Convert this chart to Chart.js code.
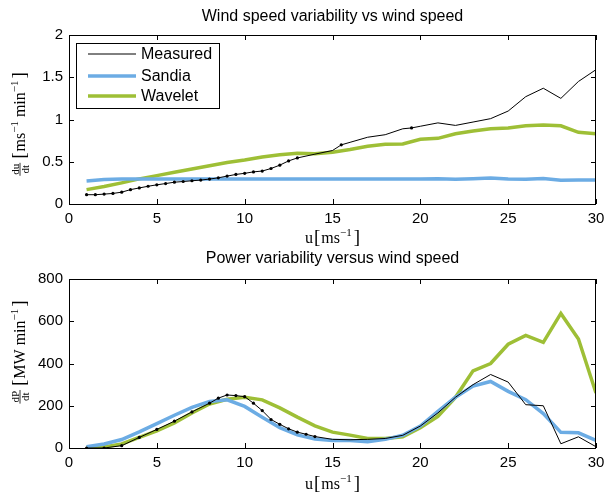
<!DOCTYPE html>
<html><head><meta charset="utf-8">
<script src="https://cdn.jsdelivr.net/npm/chart.js@4/dist/chart.umd.min.js"></script>
<style>
html,body{margin:0;padding:0;background:#fff;}
#wrap{position:relative;width:605px;height:496px;}
canvas{position:absolute;left:0;}
</style></head><body>
<div id="wrap">
<canvas id="c1" width="605" height="248" style="top:0"></canvas>
<canvas id="c2" width="605" height="248" style="top:248px"></canvas>
</div>
<script>
// ---- data: wind speed variability ----
const seriesNames = ['Measured', 'Sandia', 'Wavelet'];
const xTicks = [0, 5, 10, 15, 20, 25, 30];
const yTicksTop = [0, 0.5, 1, 1.5, 2];
const yTicksBottom = [0, 200, 400, 600, 800];

const uMeasTop = [1,1.5,2,2.5,3,3.5,4,4.5,5,5.5,6,6.5,7,7.5,8,8.5,9,9.5,10,10.5,11,11.5,12,12.5,13,14,15,15.5,16,17,18,19,19.5,20,21,22,23,24,25,26,27,28,29,30];
const measTop = [0.11,0.11,0.117,0.125,0.14,0.17,0.19,0.21,0.227,0.242,0.258,0.266,0.275,0.283,0.295,0.31,0.33,0.35,0.363,0.38,0.39,0.42,0.46,0.51,0.545,0.59,0.633,0.70,0.73,0.79,0.82,0.89,0.90,0.92,0.96,0.93,0.97,1.01,1.10,1.27,1.37,1.25,1.45,1.59];
const uModel = [1,2,3,4,5,6,7,8,9,10,11,12,13,14,15,16,17,18,19,20,21,22,23,24,25,26,27,28,29,30];
const sandiaTop = [0.273,0.29,0.297,0.297,0.297,0.297,0.297,0.297,0.297,0.297,0.297,0.297,0.297,0.297,0.297,0.297,0.297,0.297,0.297,0.297,0.30,0.292,0.30,0.308,0.295,0.292,0.302,0.28,0.283,0.285];
const waveletTop = [0.17,0.207,0.25,0.297,0.336,0.375,0.414,0.453,0.49,0.52,0.555,0.582,0.60,0.595,0.613,0.645,0.684,0.707,0.71,0.766,0.777,0.832,0.863,0.89,0.90,0.926,0.934,0.926,0.848,0.832];

// ---- data: power variability ----
const uMeasBot = [1,2,3,4,5,6,7,8,8.5,9,9.5,10,10.5,11,11.5,12,12.5,13,13.5,14,15,16,17,18,19,20,21,22,23,24,25,26,27,28,29,30];
const measBot = [0,0,11,50,88,127,171,212,236,251,248,243,212,177,135,112,91,75,65,54,41,39,41,45,60,104,166,240,300,348,312,205,200,20,53,6];
const sandiaBot = [6,19,40,76,115,155,192,220,228,197,146,96,62,43,36,36,30,41,60,104,174,240,293,315,268,229,163,74,72,36];
const waveletBot = [3,5,19,50,81,119,166,208,231,240,228,190,146,105,75,61,45,45,53,96,150,240,365,400,491,533,500,637,516,260];

const COL_M = '#000000', COL_S = '#6cace4', COL_W = '#9ebf36';
const SANS = '"Liberation Sans", Arial, sans-serif';
const SERIF = '"Liberation Serif", "Times New Roman", serif';

function pts(xs, ys){ return xs.map((x,i)=>({x:x, y:ys[i]})); }

function drawRuns(ctx, runs, x, y){
  const widths = runs.map(r=>{
    ctx.font = r.size+'px '+SERIF;
    if (r.frac){ return Math.max(ctx.measureText(r.frac[0]).width, ctx.measureText(r.frac[1]).width)+2; }
    return ctx.measureText(r.t).width + (r.gap||0);
  });
  const total = widths.reduce((a,b)=>a+b,0);
  let cx = x - total/2;
  ctx.textBaseline = 'alphabetic';
  ctx.textAlign = 'left';
  runs.forEach((r,i)=>{
    ctx.font = r.size+'px '+SERIF;
    if (r.frac){
      const w = widths[i];
      const lineY = y - 5;
      ctx.lineWidth = 0.8; ctx.beginPath(); ctx.moveTo(cx, lineY); ctx.lineTo(cx+w, lineY); ctx.stroke();
      ctx.textAlign='center';
      ctx.fillText(r.frac[0], cx+w/2, lineY-1.5);
      ctx.textBaseline='top';
      ctx.fillText(r.frac[1], cx+w/2, lineY+1);
      ctx.textBaseline='alphabetic'; ctx.textAlign='left';
    } else {
      ctx.fillText(r.t, cx + (r.pre||0), y + (r.dy||0));
    }
    cx += widths[i];
  });
}

function makeDecor(cfg){
  return {
    id:'decor',
    afterDatasetsDraw(chart){
      const ctx = chart.ctx, a = chart.chartArea;
      const xs = chart.scales.x, ys = chart.scales.y;
      ctx.save();
      ctx.strokeStyle = '#000'; ctx.lineWidth = 1;
      ctx.strokeRect(a.left+0.5, a.top+0.5, a.right-a.left-1, a.bottom-a.top);
      const tl = 5;
      ctx.beginPath();
      xTicks.forEach(v=>{ const p=Math.round(xs.getPixelForValue(v))+0.5;
        ctx.moveTo(p,a.bottom); ctx.lineTo(p,a.bottom-tl); ctx.moveTo(p,a.top); ctx.lineTo(p,a.top+tl); });
      cfg.yTicks.forEach(v=>{ const p=Math.round(ys.getPixelForValue(v))+0.5;
        ctx.moveTo(a.left,p); ctx.lineTo(a.left+tl,p); ctx.moveTo(a.right,p); ctx.lineTo(a.right-tl,p); });
      ctx.stroke();
      // title
      ctx.fillStyle = '#000';
      ctx.font = '16px '+SANS; ctx.textAlign='center'; ctx.textBaseline='middle';
      ctx.fillText(cfg.title, (a.left+a.right)/2, cfg.titleY);
      // x label
      ctx.strokeStyle='#000';
      drawRuns(ctx, [{t:'u',size:16,gap:1},{t:'[',size:19,gap:1},{t:'ms',size:16},{t:'\u22121',size:11,dy:-7,gap:2},{t:']',size:19}], (a.left+a.right)/2, cfg.xLabelY);
      // y label rotated
      ctx.save();
      ctx.translate(cfg.yLabelX, cfg.yLabelCY);
      ctx.rotate(-Math.PI/2);
      drawRuns(ctx, cfg.yRuns, 0, 0);
      ctx.restore();
      // legend
      if (cfg.legend){
        const L = cfg.legend;
        ctx.fillStyle='#fff'; ctx.fillRect(L.x, L.y, L.w, L.h);
        ctx.strokeStyle='#000'; ctx.lineWidth=1; ctx.strokeRect(L.x+0.5, L.y+0.5, L.w, L.h);
        const ds = chart.data.datasets;
        ds.forEach((d,i)=>{
          const yy = L.y + L.rows[i];
          ctx.strokeStyle = d.borderColor; ctx.lineWidth = d.borderWidth;
          ctx.beginPath(); ctx.moveTo(L.x+12, yy); ctx.lineTo(L.x+60, yy); ctx.stroke();
          ctx.fillStyle='#000'; ctx.font='16px '+SANS; ctx.textAlign='left'; ctx.textBaseline='middle';
          ctx.fillText(d.label, L.x+65, yy+1);
        });
      }
      ctx.restore();
    }
  };
}

function makeChart(id, mx, my, sy, wy, yMax, yTicks, cfg){
  const markLimit = cfg.markLimit;
  return new Chart(document.getElementById(id), {
    type:'line',
    data:{ datasets:[
      {label:seriesNames[0], data:pts(mx,my), borderColor:COL_M, backgroundColor:COL_M, borderWidth:1,
        pointRadius:(c)=>{ const x=c.raw&&c.raw.x; return (x<=markLimit || (cfg.extraMarks||[]).includes(x)) ? 1.6 : 0; },
        pointBorderWidth:0, pointBackgroundColor:COL_M, tension:0},
      {label:seriesNames[1], data:pts(uModel,sy), borderColor:COL_S, borderWidth:3.5, pointRadius:0, tension:0},
      {label:seriesNames[2], data:pts(uModel,wy), borderColor:COL_W, borderWidth:3.5, pointRadius:0, tension:0}
    ]},
    options:{
      responsive:false, animation:false, events:[],
      layout:{padding:{left:0,right:9,top:cfg.top,bottom:0}},
      plugins:{legend:{display:false}, title:{display:false}, tooltip:{enabled:false}},
      scales:{
        x:{type:'linear', min:0, max:30, afterBuildTicks:(s)=>{ s.ticks = xTicks.map(v=>({value:v})); },
           grid:{display:false, drawTicks:false}, border:{display:false},
           ticks:{color:'#000', font:{family:SANS, size:15}, padding:6, maxRotation:0, autoSkip:false, callback:(v)=>String(v)},
           afterFit:(s)=>{ s.height = cfg.xH; s.paddingLeft = 0; s.paddingRight = 0; }},
        y:{type:'linear', min:0, max:yMax, afterBuildTicks:(s)=>{ s.ticks = yTicks.map(v=>({value:v})); },
           grid:{display:false, drawTicks:false}, border:{display:false},
           ticks:{color:'#000', font:{family:SANS, size:15}, padding:6, autoSkip:false, callback:(v)=>String(v)},
           afterFit:(s)=>{ s.width = 69; s.paddingTop = 0; s.paddingBottom = 0; }}
      }
    },
    plugins:[makeDecor(Object.assign({yTicks:yTicks}, cfg))]
  });
}

makeChart('c1', uMeasTop, measTop, sandiaTop, waveletTop, 2, yTicksTop, {
  top:35, xH:44, markLimit:13, extraMarks:[15.5,19.5],
  title:'Wind speed variability vs wind speed', titleY:17, xLabelY:243,
  yLabelX:25, yLabelCY:124,
  yRuns:[{frac:['du','dt'],size:11,},{t:'[',size:19,pre:4,gap:5},{t:'ms',size:16},{t:'\u22121',size:11,dy:-7,gap:4},{t:'min',size:16},{t:'\u22121',size:11,dy:-7,gap:2},{t:']',size:19}],
  legend:{x:76,y:43,w:143,h:65,rows:[11,33,53]}
});
makeChart('c2', uMeasBot, measBot, sandiaBot, waveletBot, 800, yTicksBottom, {
  top:31, xH:48, markLimit:14,
  title:'Power variability versus wind speed', titleY:11, xLabelY:241,
  yLabelX:25, yLabelCY:104,
  yRuns:[{frac:['dP','dt'],size:11},{t:'[',size:19,pre:4,gap:5},{t:'MW',size:16,gap:4},{t:'min',size:16},{t:'\u22121',size:11,dy:-7,gap:2},{t:']',size:19}]
});
</script>
</body></html>
